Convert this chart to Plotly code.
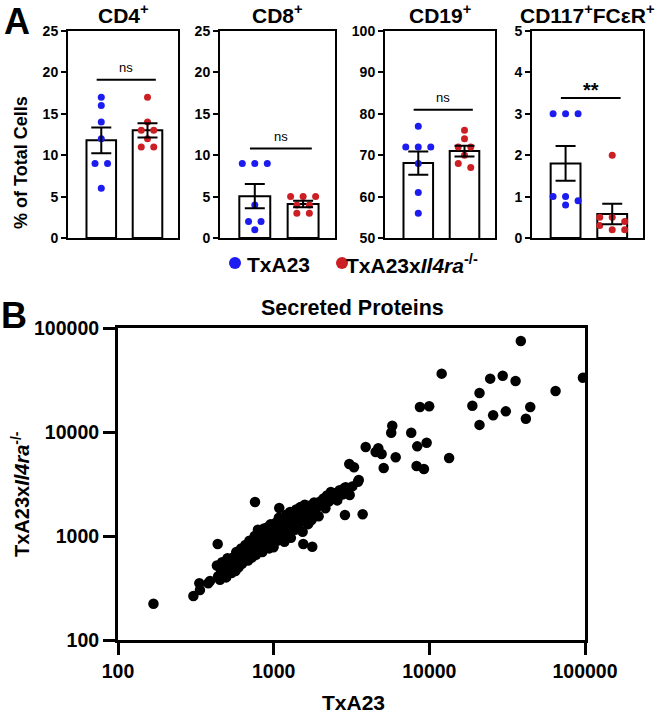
import plotly.graph_objects as go

FONT = "Arial, Liberation Sans, Helvetica, sans-serif"
BLUE = "#1c1cf0"
RED = "#cc1f24"
W, H = 667, 715

# ---------------- Panel A data ----------------
GROUPS = ["TxA23", "TxA23xIl4ra-/-"]
PANEL_TITLES = ["CD4<sup>+</sup>", "CD8<sup>+</sup>", "CD19<sup>+</sup>", "CD117<sup>+</sup>FCεR<sup>+</sup>"]
TXA23_VALUES = [
    [17, 16, 14, 12, 9, 9, 6],          # CD4+
    [9, 9, 9, 4, 2, 2, 1],              # CD8+
    [77, 72, 72, 72, 68, 61, 56],       # CD19+
    [3, 3, 3, 1, 1, 0.9, 0.8],          # CD117+FCeR+
]
KO_VALUES = [
    [17, 14, 13, 13, 12, 11, 11],
    [5, 5, 5, 4, 4, 3, 3],
    [76, 74, 72, 72, 70, 68, 67],
    [2, 0.5, 0.5, 0.4, 0.3, 0.2, 0.2],
]
TXA23_MEAN = [11.8, 5.05, 68.1, 1.8]
TXA23_SEM = [1.55, 1.47, 2.8, 0.42]
KO_MEAN = [13.0, 4.1, 71.0, 0.58]
KO_SEM = [0.85, 0.4, 1.3, 0.25]
Y_RANGES = [[0, 25], [0, 25], [50, 100], [0, 5]]
Y_DTICKS = [5, 5, 10, 1]
SIG_LABELS = ["ns", "ns", "ns", "**"]
SIG_HEIGHTS = [19.1, 10.8, 81.0, 3.38]

# ---------------- Panel B data ----------------
TXA23_LEVELS = [
    38700, 12000, 24600, 29600, 35800, 97000, 64700, 21000, 18900, 44500, 25700, 31000,
    41700, 21000, 8700, 9980, 5780, 5690, 7650, 9610, 8360, 3900, 4700, 4520,
    4940, 6080, 13400, 5090, 8280, 9230, 3060, 3280, 3520, 2900, 3730,
    169, 305, 336, 333, 390, 380, 437, 759, 1086, 1550, 1770, 2870,
    432, 440, 452, 458, 466, 475, 484, 495, 505, 512, 525, 536, 548, 556, 568, 575, 585, 596,
    610, 618, 626, 638, 645, 658, 665, 676, 684, 698, 705, 716, 724, 735, 742, 755, 762, 770, 785, 792,
    806, 815, 824, 838, 846, 858, 866, 874, 888, 896, 905, 918, 926, 935, 948, 956, 965, 978, 986, 998,
    1010, 1025, 1040, 1052, 1066, 1080, 1095, 1108, 1125, 1140, 1155, 1172, 1188, 1205, 1222, 1240, 1258, 1275, 1290, 1310, 1330, 1350,
    1372, 1395, 1415, 1440, 1462, 1485, 1510, 1535, 1560, 1585, 1610, 1640, 1665, 1690, 1720, 1750, 1785, 1820, 1860, 1900, 1945, 1990,
    2040, 2090, 2150, 2200, 2260, 2330, 2400, 2480, 2560, 2650, 2760, 2850, 2960, 3080, 3200, 3480,
]
IL4RA_LEVELS = [
    75000, 36400, 32600, 34800, 30900, 33300, 24800, 23700, 17900, 17400, 14500, 15800,
    13400, 11700, 17400, 17700, 11500, 9840, 9840, 7890, 7280, 7180, 6970, 6430,
    6140, 5710, 5620, 4510, 4710, 4400, 4920, 4580, 3450, 2940, 1620,
    223, 265, 303, 351, 369, 351, 838, 2120, 1860, 838, 789, 1590,
    520, 410, 380, 470, 560, 430, 500, 400, 610, 470, 530, 440, 620, 500, 460, 700, 560, 500,
    620, 760, 540, 680, 590, 820, 650, 720, 580, 900, 680, 780, 620, 860, 700, 1000, 760, 660, 880, 1150,
    740, 960, 820, 1060, 700, 900, 1180, 780, 960, 1050, 840, 1220, 900, 760, 1020, 1300, 860, 1100, 940, 780,
    1200, 1020, 1350, 900, 1120, 1500, 980, 1250, 1080, 1420, 1180, 880, 1300, 1600, 1050, 1380, 1200, 1700, 960, 1450, 1280, 1620,
    1150, 1800, 1400, 1250, 1560, 1900, 1380, 1100, 1650, 2000, 1480, 1720, 1300, 1950, 1600, 1420, 1800, 2100, 1650, 1900, 1550, 2150,
    1980, 2300, 1850, 2450, 2150, 2650, 2300, 2580, 2200, 2750, 2500, 2900, 2650, 2480, 3000, 3330,
]
LOG_TICKS = [100, 1000, 10000, 100000]


def px_x(p):
    return p / W


def px_y(p):
    return 1 - p / H


X_DOMAINS = [[68, 178], [220, 335], [385, 495], [532, 643]]
TOP_Y = [31, 238]
X_RANGE = [-0.72, 1.66]
PANEL_H = TOP_Y[1] - TOP_Y[0]


def swarm_offsets(vals, px_per_unit, x_px_per_unit, row_px=6.0, step_px=12.5):
    order = sorted(range(len(vals)), key=lambda i: -vals[i])
    rows = []
    for i in order:
        if rows and abs(vals[rows[-1][0]] - vals[i]) * px_per_unit < row_px:
            rows[-1].append(i)
        else:
            rows.append([i])
    offs = [0.0] * len(vals)
    for row in rows:
        n = len(row)
        for k, i in enumerate(row):
            offs[i] = (k - (n - 1) / 2) * step_px / x_px_per_unit
    return offs


fig = go.Figure()
annotations = []
shapes = []
layout_axes = {}

for p in range(4):
    xa, ya = f"x{p+1}", f"y{p+1}"
    xd = X_DOMAINS[p]
    ypu = PANEL_H / (Y_RANGES[p][1] - Y_RANGES[p][0])
    xpu = (xd[1] - xd[0]) / (X_RANGE[1] - X_RANGE[0])
    fig.add_trace(go.Bar(
        x=[0, 1], y=[TXA23_MEAN[p], KO_MEAN[p]], width=0.64,
        marker=dict(color="white", line=dict(color="black", width=2)),
        xaxis=xa, yaxis=ya, showlegend=False, hoverinfo="skip"))
    for gi, (vals, col) in enumerate([(TXA23_VALUES[p], BLUE), (KO_VALUES[p], RED)]):
        offs = swarm_offsets(vals, ypu, xpu)
        fig.add_trace(go.Scatter(
            x=[gi + o for o in offs], y=vals, mode="markers",
            marker=dict(size=7, color=col), xaxis=xa, yaxis=ya,
            showlegend=False, cliponaxis=False))
    fig.add_trace(go.Scatter(
        x=[0, 1], y=[TXA23_MEAN[p], KO_MEAN[p]], mode="markers",
        marker=dict(size=1, color="rgba(0,0,0,0)"),
        error_y=dict(type="data", array=[TXA23_SEM[p], KO_SEM[p]],
                     color="black", thickness=2, width=10),
        xaxis=xa, yaxis=ya, showlegend=False, hoverinfo="skip"))
    suffix = "" if p == 0 else str(p + 1)
    layout_axes["xaxis" + suffix] = dict(
        domain=[px_x(xd[0]), px_x(xd[1])], range=X_RANGE, anchor=ya,
        showticklabels=False, ticks="", showline=True, linewidth=2,
        linecolor="black", mirror=True, showgrid=False, zeroline=False,
        automargin=False)
    layout_axes["yaxis" + suffix] = dict(
        domain=[px_y(TOP_Y[1]), px_y(TOP_Y[0])], range=Y_RANGES[p], anchor=xa,
        dtick=Y_DTICKS[p], tick0=Y_RANGES[p][0], ticks="outside", ticklen=5,
        tickwidth=2, tickcolor="black", showline=True, linewidth=2,
        linecolor="black", mirror=True, showgrid=False, zeroline=False,
        automargin=False,
        tickfont=dict(family=FONT, size=14, color="black", weight="bold"))
    # significance line + label
    shapes.append(dict(type="line", xref=xa, yref=ya, x0=-0.1, x1=1.18,
                       y0=SIG_HEIGHTS[p], y1=SIG_HEIGHTS[p],
                       line=dict(color="black", width=2)))
    if SIG_LABELS[p] == "ns":
        annotations.append(dict(xref=xa, yref=ya, x=0.54, y=SIG_HEIGHTS[p],
                                text="ns", showarrow=False, yanchor="middle",
                                yshift=12, font=dict(family=FONT, size=13, color="black")))
    else:
        annotations.append(dict(xref=xa, yref=ya, x=0.54, y=SIG_HEIGHTS[p],
                                text=SIG_LABELS[p], showarrow=False, yanchor="middle",
                                yshift=8, font=dict(family=FONT, size=20, color="black", weight="bold")))
    # panel title
    annotations.append(dict(xref="paper", yref="paper", x=px_x((xd[0] + xd[1]) / 2),
                            y=px_y(14), text=PANEL_TITLES[p], showarrow=False,
                            xanchor="center", yanchor="middle",
                            font=dict(family=FONT, size=21, color="black", weight="bold")))

# ---------------- Panel B ----------------
fig.add_trace(go.Scatter(
    x=TXA23_LEVELS, y=IL4RA_LEVELS, mode="markers",
    marker=dict(size=10.5, color="black"), xaxis="x5", yaxis="y5",
    showlegend=False))
tick_font_b = dict(family=FONT, size=19.5, color="black", weight="bold")
layout_axes["xaxis5"] = dict(
    type="log", domain=[px_x(118), px_x(585)], range=[2, 5], anchor="y5",
    tickvals=LOG_TICKS, ticktext=[str(v) for v in LOG_TICKS], ticks="outside",
    ticklen=12, tickwidth=3, tickcolor="black", showline=True, linewidth=3,
    linecolor="black", mirror=True, showgrid=False, zeroline=False,
    automargin=False, tickfont=tick_font_b)
layout_axes["yaxis5"] = dict(
    type="log", domain=[px_y(640), px_y(328)], range=[2, 5], anchor="x5",
    tickvals=LOG_TICKS, ticktext=[str(v) for v in LOG_TICKS], ticks="outside",
    ticklen=12, tickwidth=3, tickcolor="black", showline=True, linewidth=3,
    linecolor="black", mirror=True, showgrid=False, zeroline=False,
    automargin=False, tickfont=tick_font_b)

# texts
annotations += [
    dict(xref="paper", yref="paper", x=px_x(17), y=px_y(21), text="A",
         showarrow=False, xanchor="center", yanchor="middle",
         font=dict(family=FONT, size=36, color="black", weight="bold")),
    dict(xref="paper", yref="paper", x=px_x(14), y=px_y(315), text="B",
         showarrow=False, xanchor="center", yanchor="middle",
         font=dict(family=FONT, size=36, color="black", weight="bold")),
    dict(xref="paper", yref="paper", x=px_x(21), y=px_y(163), text="% of Total Cells",
         showarrow=False, textangle=-90, xanchor="center", yanchor="middle",
         font=dict(family=FONT, size=18, color="black", weight="bold")),
    dict(xref="paper", yref="paper", x=px_x(245), y=px_y(264), text=GROUPS[0],
         showarrow=False, xanchor="left", yanchor="middle",
         font=dict(family=FONT, size=21, color="black", weight="bold")),
    dict(xref="paper", yref="paper", x=px_x(344), y=px_y(264),
         text="TxA23x<i>Il4ra</i><sup>-/-</sup>",
         showarrow=False, xanchor="left", yanchor="middle",
         font=dict(family=FONT, size=21, color="black", weight="bold")),
    dict(xref="paper", yref="paper", x=px_x(352), y=px_y(308), text="Secreted Proteins",
         showarrow=False, xanchor="center", yanchor="middle",
         font=dict(family=FONT, size=21.5, color="black", weight="bold")),
    dict(xref="paper", yref="paper", x=px_x(353), y=px_y(702), text="TxA23",
         showarrow=False, xanchor="center", yanchor="middle",
         font=dict(family=FONT, size=21, color="black", weight="bold")),
    dict(xref="paper", yref="paper", x=px_x(20), y=px_y(494),
         text="TxA23x<i>Il4ra</i><sup>-/-</sup>", textangle=-90,
         showarrow=False, xanchor="center", yanchor="middle",
         font=dict(family=FONT, size=20, color="black", weight="bold")),
]
for cx, col in [(235, BLUE), (342, RED)]:
    shapes.append(dict(type="circle", xref="paper", yref="paper",
                       x0=px_x(cx - 6), x1=px_x(cx + 6), y0=px_y(263 + 6), y1=px_y(263 - 6),
                       fillcolor=col, line=dict(width=0)))

fig.update_layout(
    width=W, height=H, margin=dict(l=0, r=0, t=0, b=0, autoexpand=False),
    paper_bgcolor="white", plot_bgcolor="white", showlegend=False,
    annotations=annotations, shapes=shapes, **layout_axes)

fig.write_html("out.html", config={"displayModeBar": False},
               post_script="document.body.style.margin = '0px';")
